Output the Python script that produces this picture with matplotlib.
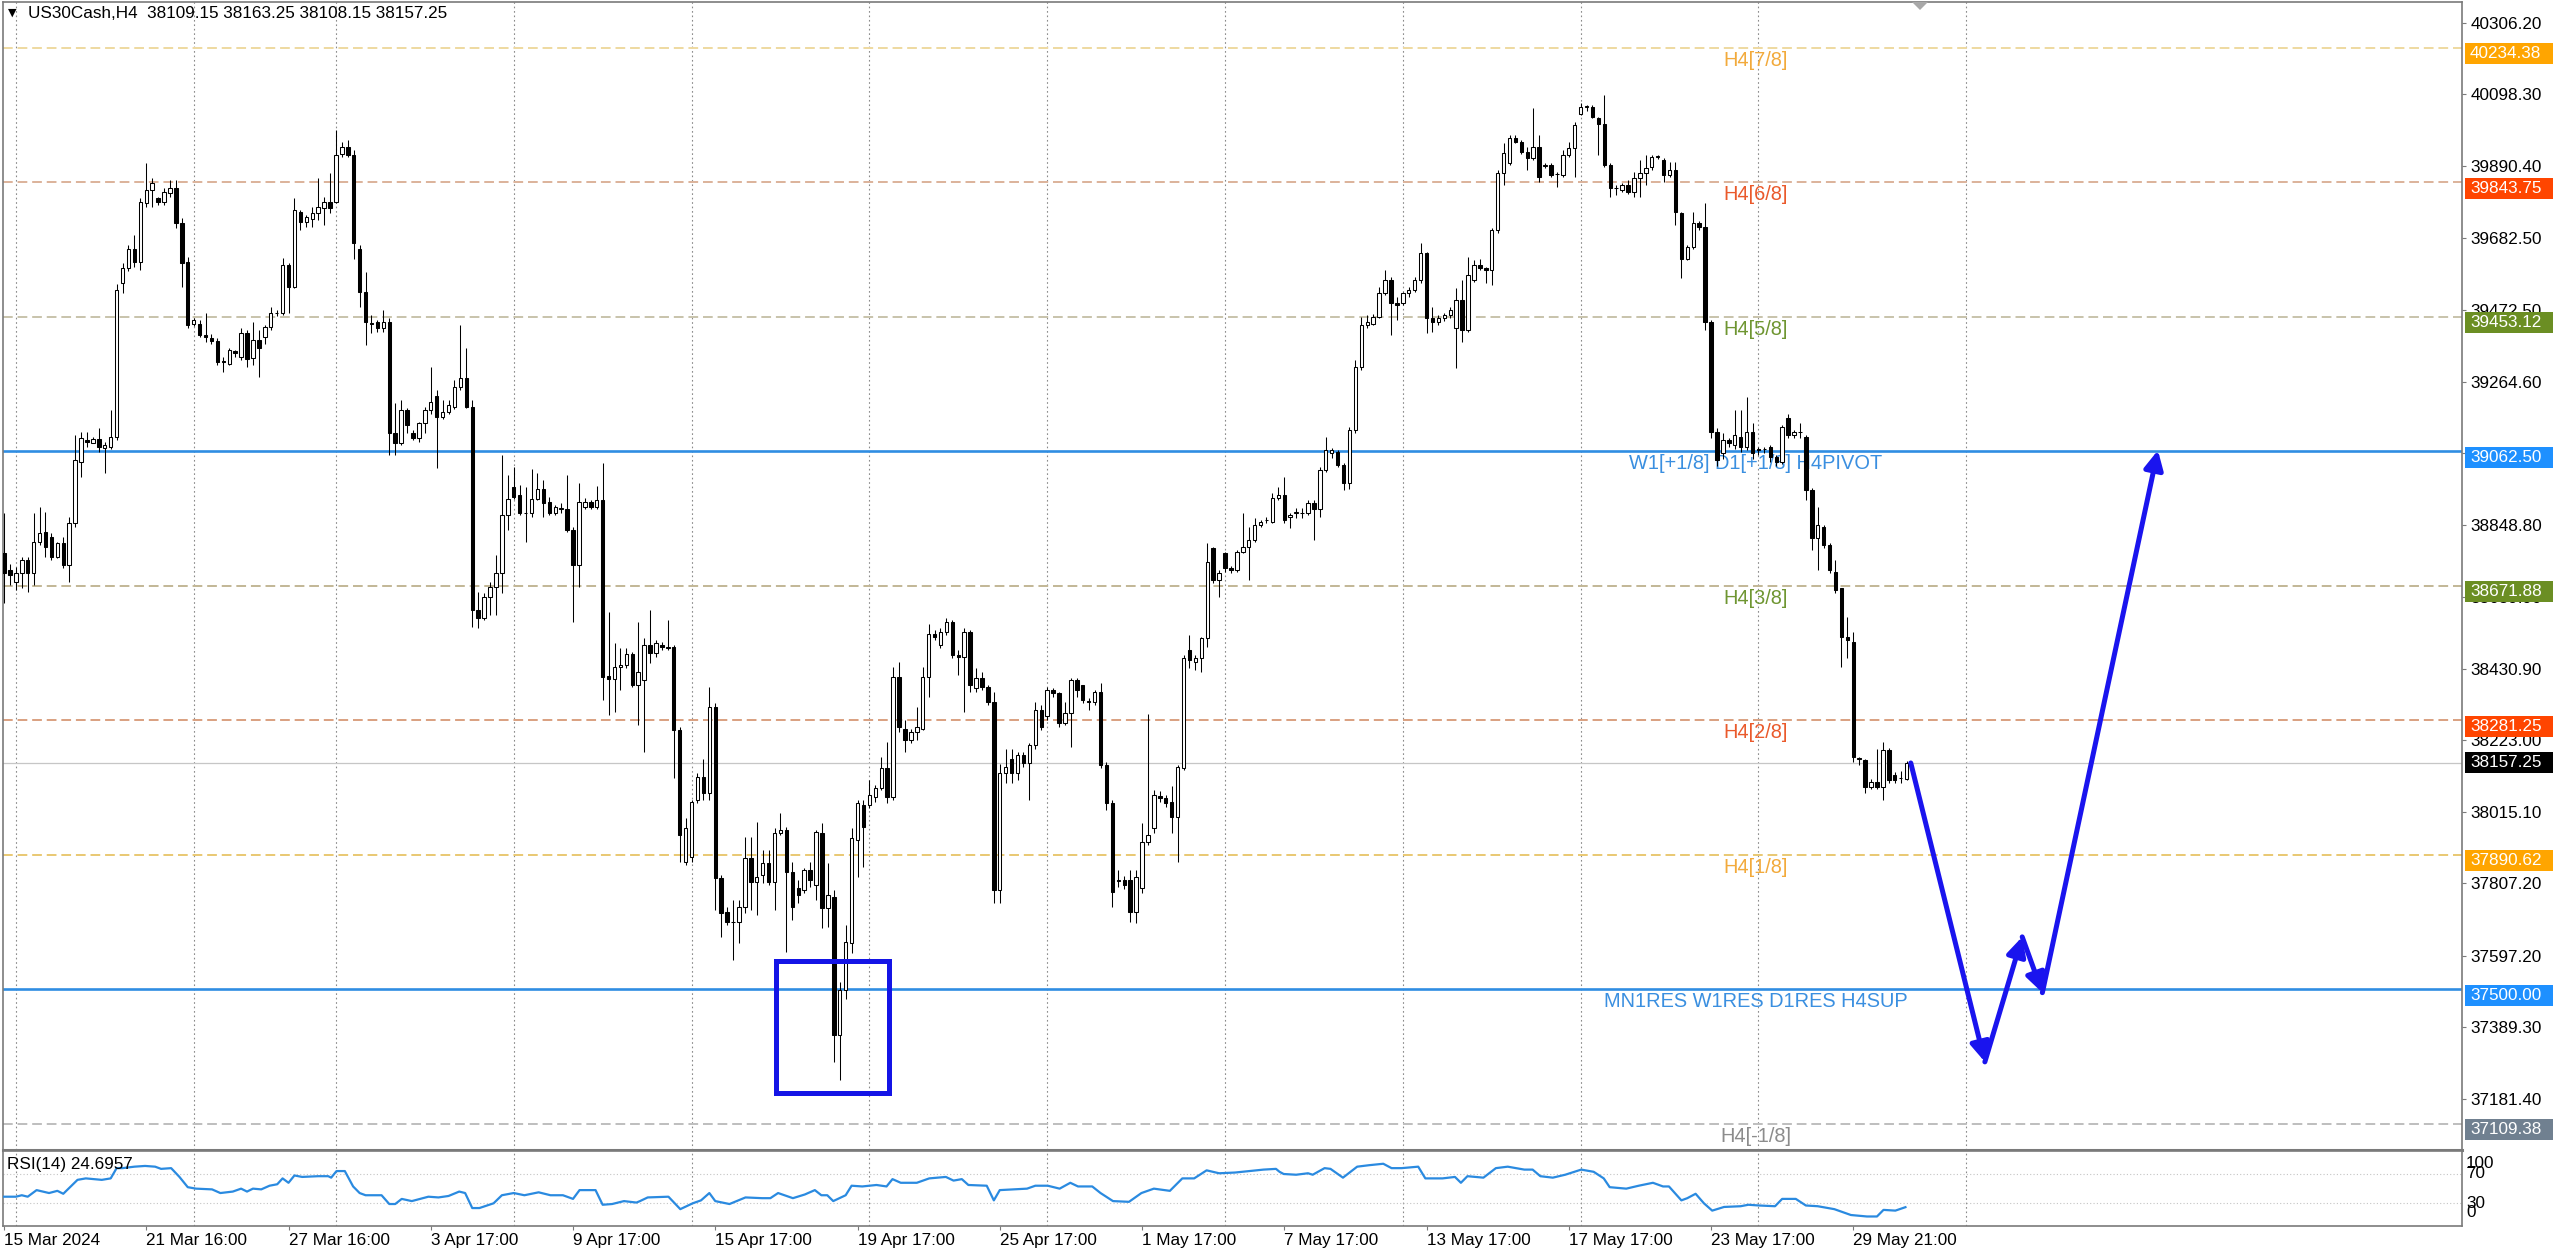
import matplotlib
matplotlib.use("Agg")
import numpy as np
from matplotlib import pyplot as plt
from matplotlib import patches, transforms

plt.rcParams["font.family"] = ["Liberation Sans", "DejaVu Sans"]

# US30Cash H4 candles, bar 0 = 15 Mar 2024
opens = [
    38766, 38717, 38683, 38708, 38746, 38708, 38800, 38829, 38814, 38756,
    38797, 38732, 38853, 39032, 39095, 39087, 39097, 39073, 39075, 39104,
    39550, 39593, 39651, 39613, 39782, 39821, 39797, 39787, 39811, 39826,
    39724, 39613, 39433, 39433, 39400, 39390, 39383, 39325, 39317, 39353,
    39337, 39405, 39332, 39385, 39395, 39424, 39463, 39463, 39603, 39540,
    39758, 39729, 39738, 39753, 39770, 39787, 39787, 39925, 39947, 39923,
    39651, 39526, 39436, 39438, 39419, 39438, 39114, 39085, 39182, 39114,
    39100, 39143, 39182, 39224, 39163, 39177, 39192, 39250, 39274, 39192,
    38601, 38577, 38640, 38669, 38708, 38877, 38959, 38935, 38884, 38882,
    38925, 38954, 38916, 38884, 38896, 38896, 38834, 38732, 38901, 38916,
    38901, 38921, 38410, 38400, 38437, 38441, 38473, 38383, 38398, 38500,
    38475, 38500, 38490, 38495, 38253, 37870, 37884, 38049, 38117, 38069,
    38321, 37822, 37725, 37696, 37696, 37740, 37880, 37812, 37832, 37866,
    37812, 37953, 37962, 37841, 37793, 37788, 37846, 37803, 37953, 37735,
    37769, 37367, 37498, 37633, 37933, 38035, 38035, 38059, 38083, 38141,
    38059, 38408, 38257, 38224, 38248, 38257, 38408, 38533, 38500, 38538,
    38567, 38471, 38466, 38538, 38374, 38403, 38379, 38335, 37788, 38127,
    38170, 38127, 38180, 38156, 38209, 38311, 38292, 38369, 38359, 38272,
    38301, 38398, 38383, 38338, 38335, 38364, 38151, 38040, 37817, 37817,
    37817, 37725, 37793, 37928, 37967, 38061, 38054, 38045, 38001, 38141,
    38485, 38451, 38461, 38519, 38780, 38688, 38766, 38722, 38717, 38771,
    38785, 38805, 38848, 38862, 38858, 38926, 38935, 38872, 38884, 38884,
    38882, 38911, 38896, 39008, 39056, 39061, 39022, 38969, 39124, 39308,
    39429, 39433, 39453, 39521, 39559, 39492, 39492, 39521, 39531, 39560,
    39637, 39448, 39438, 39448, 39458, 39419, 39501, 39414, 39560, 39603,
    39593, 39588, 39705, 39869, 39898, 39971, 39961, 39932, 39913, 39947,
    39891, 39893, 39866, 39864, 39923, 39942, 40043, 40062, 40063, 40029,
    40014, 39893, 39826, 39821, 39835, 39816, 39855, 39869, 39889, 39918,
    39908, 39864, 39879, 39753, 39622, 39656, 39724, 39714, 39438, 39119,
    39056, 39095, 39080, 39104, 39075, 39119, 39068, 39070, 39075, 39046,
    39032, 39158, 39109, 39119, 39104, 38950, 38809, 38843, 38790, 38713,
    38664, 38524, 38509, 38172, 38165, 38088, 38103, 38088, 38195, 38122,
    38112, 38109.15,
]
highs = [
    38882, 38736, 38727, 38756, 38756, 38882, 38901, 38887, 38824, 38800,
    38814, 38872, 39109, 39119, 39119, 39104, 39129, 39090, 39182, 39547,
    39608, 39660, 39690, 39797, 39898, 39855, 39802, 39826, 39850, 39850,
    39739, 39627, 39448, 39443, 39463, 39404, 39390, 39337, 39361, 39356,
    39419, 39414, 39438, 39414, 39429, 39482, 39472, 39624, 39608, 39797,
    39763, 39748, 39772, 39857, 39801, 39869, 39995, 39961, 39966, 39937,
    39661, 39584, 39458, 39443, 39472, 39448, 39201, 39211, 39187, 39124,
    39148, 39192, 39308, 39240, 39211, 39211, 39269, 39429, 39361, 39211,
    38654, 38650, 38683, 38761, 39051, 38993, 39017, 38964, 38959, 39012,
    38998, 38979, 38930, 38906, 38911, 38993, 38843, 38969, 38926, 38921,
    38960, 39027, 38596, 38504, 38490, 38490, 38480, 38567, 38519, 38601,
    38514, 38509, 38572, 38500, 38262, 37996, 38049, 38127, 38170, 38379,
    38330, 37832, 37740, 37759, 37759, 37943, 37943, 37987, 37905, 37905,
    37967, 38011, 37972, 37870, 37817, 37851, 37870, 37962, 37982, 37866,
    37788, 37522, 37686, 37967, 38049, 38049, 38108, 38093, 38175, 38219,
    38437, 38451, 38282, 38257, 38321, 38437, 38562, 38543, 38548, 38577,
    38572, 38485, 38548, 38543, 38432, 38422, 38384, 38364, 38155, 38199,
    38199, 38190, 38190, 38214, 38335, 38325, 38379, 38374, 38364, 38335,
    38403, 38403, 38383, 38345, 38369, 38388, 38160, 38049, 37845, 37830,
    37845, 37845, 37982, 38300, 38078, 38075, 38064, 38090, 38151, 38471,
    38529, 38470, 38524, 38795, 38785, 38718, 38771, 38730, 38776, 38882,
    38843, 38867, 38863, 38872, 38940, 38959, 38988, 38882, 38897, 38897,
    38921, 38921, 39017, 39104, 39071, 39066, 39027, 39134, 39327, 39453,
    39457, 39462, 39540, 39589, 39569, 39511, 39526, 39540, 39569, 39666,
    39642, 39482, 39458, 39465, 39482, 39535, 39560, 39627, 39618, 39622,
    39598, 39710, 39879, 39956, 39981, 39981, 39966, 39947, 40058, 39981,
    39898, 39898, 39874, 39937, 39961, 40019, 40073, 40068, 40068, 40034,
    40097, 39898, 39835, 39840, 39850, 39874, 39908, 39923, 39923, 39923,
    39913, 39903, 39903, 39758, 39661, 39758, 39730, 39782, 39443, 39130,
    39114, 39100, 39182, 39182, 39221, 39143, 39075, 39075, 39080, 39050,
    39138, 39170, 39124, 39143, 39109, 38955, 38901, 38848, 38795, 38746,
    38664, 38582, 38538, 38175, 38170, 38110, 38199, 38219, 38200, 38130,
    38135, 38163.25,
]
lows = [
    38621, 38675, 38659, 38664, 38654, 38674, 38790, 38756, 38746, 38751,
    38722, 38684, 38843, 38988, 39075, 39085, 39061, 38998, 39070, 39095,
    39521, 39585, 39598, 39589, 39772, 39772, 39778, 39778, 39802, 39710,
    39540, 39419, 39425, 39395, 39380, 39375, 39313, 39293, 39313, 39337,
    39327, 39308, 39313, 39279, 39375, 39414, 39455, 39458, 39463, 39535,
    39705, 39714, 39714, 39734, 39719, 39753, 39782, 39918, 39918, 39622,
    39482, 39371, 39405, 39409, 39409, 39051, 39051, 39080, 39114, 39095,
    39090, 39114, 39170, 39013, 39155, 39170, 39185, 39240, 39187, 38553,
    38548, 38572, 38587, 38587, 38650, 38834, 38925, 38877, 38800, 38872,
    38920, 38872, 38877, 38877, 38882, 38829, 38567, 38669, 38896, 38896,
    38896, 38340, 38296, 38306, 38369, 38432, 38379, 38268, 38190, 38446,
    38466, 38485, 38485, 38112, 37870, 37860, 37870, 38040, 38049, 38049,
    37730, 37653, 37686, 37585, 37633, 37720, 37730, 37715, 37808, 37803,
    37730, 37948, 37609, 37701, 37749, 37779, 37798, 37759, 37677, 37682,
    37290, 37236, 37473, 37604, 37827, 37856, 38025, 38045, 38078, 38040,
    38049, 38248, 38190, 38214, 38224, 38252, 38350, 38514, 38490, 38528,
    38461, 38412, 38306, 38364, 38364, 38369, 38325, 37749, 37749, 38100,
    38100, 38108, 38146, 38049, 38199, 38252, 38282, 38350, 38262, 38267,
    38204, 38350, 38330, 38311, 38325, 38141, 38020, 37740, 37796, 37790,
    37696, 37691, 37780, 37920, 37953, 38045, 38030, 37953, 37870, 38136,
    38432, 38427, 38422, 38495, 38680, 38640, 38712, 38710, 38713, 38766,
    38688, 38800, 38843, 38853, 38853, 38920, 38853, 38838, 38867, 38867,
    38877, 38805, 38872, 39003, 39042, 39017, 38950, 38954, 39114, 39298,
    39420, 39428, 39448, 39515, 39400, 39443, 39487, 39511, 39526, 39550,
    39405, 39409, 39430, 39440, 39450, 39303, 39380, 39409, 39555, 39590,
    39550, 39545, 39695, 39835, 39893, 39956, 39925, 39879, 39908, 39845,
    39884, 39860, 39830, 39859, 39918, 39859, 40038, 40050, 40029, 39923,
    39888, 39802, 39807, 39815, 39810, 39801, 39801, 39835, 39880, 39910,
    39845, 39860, 39719, 39564, 39617, 39651, 39705, 39414, 39100, 39020,
    39040, 39075, 39070, 39060, 39065, 39040, 39051, 39056, 39030, 39020,
    39025, 39100, 39100, 39100, 38921, 38775, 38717, 38780, 38710, 38650,
    38437, 38461, 38160, 38150, 38070, 38080, 38080, 38049, 38100, 38100,
    38100, 38108.15,
]
closes = [
    38708, 38703, 38708, 38746, 38708, 38800, 38826, 38785, 38756, 38795,
    38732, 38853, 39037, 39100, 39088, 39097, 39075, 39080, 39104, 39531,
    39593, 39651, 39613, 39787, 39821, 39840, 39787, 39816, 39826, 39724,
    39608, 39429, 39443, 39400, 39393, 39383, 39322, 39321, 39356, 39348,
    39405, 39329, 39385, 39361, 39424, 39463, 39465, 39603, 39540, 39763,
    39729, 39743, 39753, 39772, 39787, 39768, 39923, 39947, 39923, 39666,
    39526, 39438, 39432, 39419, 39438, 39114, 39085, 39182, 39138, 39100,
    39143, 39182, 39206, 39163, 39177, 39197, 39250, 39274, 39192, 38601,
    38577, 38640, 38669, 38708, 38877, 38925, 38930, 38882, 38882, 38925,
    38954, 38911, 38882, 38899, 38898, 38834, 38732, 38916, 38916, 38901,
    38921, 38408, 38400, 38437, 38441, 38473, 38383, 38422, 38500, 38475,
    38504, 38493, 38495, 38253, 37948, 37967, 38044, 38117, 38069, 38321,
    37822, 37720, 37696, 37694, 37740, 37880, 37812, 37827, 37866, 37812,
    37953, 37962, 37841, 37740, 37774, 37846, 37817, 37957, 37735, 37774,
    37367, 37498, 37638, 37938, 38040, 37972, 38064, 38083, 38141, 38059,
    38408, 38262, 38224, 38248, 38262, 38408, 38533, 38524, 38538, 38567,
    38471, 38466, 38538, 38383, 38403, 38379, 38335, 37788, 38127, 38146,
    38127, 38180, 38156, 38209, 38311, 38262, 38369, 38359, 38272, 38301,
    38398, 38369, 38340, 38335, 38364, 38151, 38040, 37783, 37815, 37803,
    37725, 37827, 37928, 37948, 38064, 38054, 38040, 38001, 38146, 38461,
    38456, 38461, 38519, 38742, 38688, 38708, 38722, 38717, 38771, 38785,
    38805, 38848, 38858, 38864, 38926, 38935, 38862, 38877, 38886, 38882,
    38911, 38896, 39008, 39066, 39066, 39022, 38969, 39124, 39308, 39429,
    39438, 39453, 39521, 39559, 39492, 39487, 39521, 39531, 39560, 39637,
    39448, 39438, 39448, 39458, 39472, 39501, 39414, 39574, 39603, 39593,
    39588, 39705, 39869, 39927, 39971, 39961, 39932, 39913, 39947, 39860,
    39893, 39864, 39866, 39923, 39942, 40010, 40063, 40064, 40034, 40014,
    39893, 39826, 39827, 39835, 39816, 39855, 39869, 39884, 39918, 39919,
    39864, 39879, 39758, 39622, 39656, 39724, 39714, 39438, 39119, 39037,
    39095, 39087, 39109, 39075, 39119, 39056, 39066, 39068, 39046, 39032,
    39134, 39109, 39119, 39118, 38950, 38809, 38848, 38790, 38717, 38659,
    38524, 38514, 38175, 38170, 38088, 38103, 38088, 38195, 38108, 38108,
    38112, 38157.25,
]

# RSI(14) line, read at these bar positions
rsi_bars = [
    0, 2, 3, 4, 5.5, 7.6, 9, 10, 12.4, 13.8,
    16.5, 18, 19, 20, 22, 23.8, 25.5, 26.5, 28.2, 29.6,
    31, 32.4, 35.1, 36.5, 38.6, 40, 41, 42, 43.4, 44.8,
    46.1, 47, 48, 49, 50.3, 53, 54.7, 55.2, 56.1, 57.5,
    58.9, 60, 61, 63.7, 65, 66, 67.1, 68.8, 71.6, 73.3,
    75, 76.8, 77.8, 79, 80.2, 82.6, 84, 86, 87.8, 90.2,
    92.2, 94.3, 96, 97.1, 99.8, 101, 102.6, 104.6, 106.7, 107.3,
    108.6, 112.1, 114.1, 116.2, 117.6, 119, 120, 122.4, 125.1, 127.9,
    129.3, 130.6, 133.1, 135.1, 136.8, 137.9, 138.9, 139.9, 142, 143,
    144.8, 147.2, 148.9, 149.9, 151.3, 154, 156.1, 158.9, 160.2, 161.6,
    162.7, 165.8, 167, 168, 172.6, 174, 176.1, 178.1, 179.9, 181.2,
    183.6, 185, 187.1, 189.8, 191.9, 194, 196.7, 198.8, 200.8, 202.9,
    205, 207.7, 212.5, 214.6, 215.2, 215.9, 218, 220, 220.8, 222.8,
    223.8, 225.9, 228.3, 230.3, 232.7, 234.1, 235.8, 238.6, 239.8, 242.7,
    244.8, 245.8, 246.9, 249.6, 251.7, 253.7, 256.5, 257.9, 259.2, 261.3,
    263.4, 266.1, 268.2, 269.9, 270.9, 273.7, 275.8, 278.2, 279.9, 280.9,
    283, 284, 285.4, 286.8, 288.2, 290.2, 293, 294.3, 296.1, 298.8,
    300, 302.3, 304, 306, 308.8, 311.6, 314.3, 316, 317.1, 319.1,
    320.8,
]
rsi_values = [
    39, 39, 41, 39, 48, 44, 47, 43, 62, 64,
    62, 64, 78, 78, 80, 81, 80, 77, 78, 66,
    52, 50, 49, 44, 46, 50, 46, 50, 49, 54,
    56, 64, 58, 68, 66, 67, 67, 65, 74, 74,
    53, 44, 41, 41, 29, 29, 36, 33, 39, 38,
    40, 46, 44, 23.5, 23.5, 30, 41, 44, 41, 45,
    41, 41, 36, 48, 48, 28, 29, 33, 31, 33,
    38, 39, 22, 30, 34, 44, 33, 29, 38, 37,
    37, 44, 37, 42, 48, 41, 41, 33, 41, 54,
    53, 55, 53, 63, 58, 58, 64, 66, 61, 63,
    55, 54, 34, 48, 50, 54, 54, 50, 58, 53,
    53, 44, 33, 32, 44, 50, 47, 64, 64, 75,
    71, 72, 76, 77, 73, 70, 69, 71, 69, 78,
    77, 65, 80, 82, 84, 78, 78, 80, 64, 64,
    66, 58, 67, 65, 78, 80, 76, 76, 67, 65,
    69, 76, 73, 64, 52, 50, 54, 58, 53, 53,
    34, 37, 43, 30, 20, 25, 26, 28, 27, 26,
    36, 36, 27, 26, 22, 14, 12, 12, 21, 20,
    24.6957,
]

# Murrey-style H4 levels
level_prices = [40234.38, 39843.75, 39453.12, 38671.88, 38281.25, 37890.62, 37109.38]
level_names = ["H4[7/8]", "H4[6/8]", "H4[5/8]", "H4[3/8]", "H4[2/8]", "H4[1/8]", "H4[-1/8]"]
level_tag_colors = ["#ffa500", "#ff4500", "#6b8e23", "#6b8e23", "#ff4500", "#ffa500", "#708090"]
level_line_colors = ["#eed9a0", "#dcb29a", "#c8c3ab", "#c2b796", "#d9a080", "#e9c872", "#bebebe"]
level_text_colors = ["#f2aa3c", "#ea5a2c", "#6f9632", "#6f9632", "#ea5a2c", "#f2aa3c", "#8c8c8c"]

pivot_prices = [39062.50, 37500.00]
pivot_names = ["W1[+1/8] D1[+1/8] H4PIVOT", "MN1RES W1RES D1RES H4SUP"]
last_price = 38157.25

price_ticks = [40306.20, 40098.30, 39890.40, 39682.50, 39472.50, 39264.60, 39056.70,
               38848.80, 38639.90, 38430.90, 38223.00, 38015.10, 37807.20, 37597.20,
               37389.30, 37181.40]

date_bars = [0, 24, 48, 72, 96, 120, 144, 168, 192, 216, 240, 264, 288, 312]
date_labels = ["15 Mar 2024", "21 Mar 16:00", "27 Mar 16:00", "3 Apr 17:00", "9 Apr 17:00",
               "15 Apr 17:00", "19 Apr 17:00", "25 Apr 17:00", "1 May 17:00", "7 May 17:00",
               "13 May 17:00", "17 May 17:00", "23 May 17:00", "29 May 21:00"]
grid_bars = [2, 32, 56, 86, 116, 146, 176, 206, 236, 266, 296, 331]

# hand-drawn objects
box_bars = [130.25, 149.3]
box_prices = [37199, 37582]
path_bars = [321.7, 334.2, 340.5, 343.9, 363.4]
path_prices = [38157, 37289, 37652, 37490, 39065]

W, H = 2560, 1253
fig = plt.figure(figsize=(W / 100, H / 100), dpi=100, facecolor="white")
ax = fig.add_axes([3 / W, 1 - 1150 / H, 2459 / W, 1148 / H])
rsi_ax = fig.add_axes([3 / W, 1 - 1226 / H, 2459 / W, 75 / H], sharex=ax)

ax.set_xlim(-0.17, 414.7)
ax.set_ylim(37033.1, 40366.9)
rsi_ax.set_ylim(-1, 101.4)

frame = "#7a7a7a"
for a in (ax, rsi_ax):
    for s in a.spines.values():
        s.set_color(frame)
        s.set_linewidth(1.2)
    for gb in grid_bars:
        a.axvline(gb, color="#8a8a8a", lw=0.8, linestyle=(0, (1.5, 2.5)), zorder=1)
ax.spines["bottom"].set_linewidth(2.2)

# levels
for p, lc in zip(level_prices, level_line_colors):
    ax.axhline(p, color=lc, lw=1.4, dashes=(5, 2.5), zorder=2)
for p in pivot_prices:
    ax.axhline(p, color="#2f8de2", lw=1.9, zorder=2)
ax.axhline(last_price, color="#c6c6c6", lw=0.9, zorder=1.8)

for p, name, tc in zip(level_prices, level_names, level_text_colors):
    ax.annotate(name, xy=(295.5, p), xytext=(0, -12.5), textcoords="offset pixels",
                ha="center", va="center", color=tc, fontsize=14.4, zorder=2.5)
for p, name in zip(pivot_prices, pivot_names):
    ax.annotate(name, xy=(295.5, p), xytext=(0, -12), textcoords="offset pixels",
                ha="center", va="center", color="#3a8fe0", fontsize=14.4, zorder=2.5)

# candles
o = np.array(opens)
h = np.array(highs)
l = np.array(lows)
c = np.array(closes)
x = np.arange(len(c))
ax.vlines(x, l, h, color="black", lw=0.75, zorder=3)
up = c >= o
body_lo = np.minimum(o, c)
body_h = np.abs(c - o)
ax.bar(x[up], body_h[up], bottom=body_lo[up], width=0.58, color="white",
       edgecolor="black", linewidth=0.75, zorder=4)
ax.bar(x[~up], body_h[~up], bottom=body_lo[~up], width=0.58, color="black",
       edgecolor="black", linewidth=0.75, zorder=4)

# blue box and forecast arrows
ax.add_patch(patches.Rectangle((box_bars[0], box_prices[0]), box_bars[1] - box_bars[0],
                               box_prices[1] - box_prices[0], fill=False,
                               edgecolor="#1414e6", lw=3.6, zorder=6))
for k in range(len(path_bars) - 1):
    ax.add_patch(patches.FancyArrowPatch(
        (path_bars[k], path_prices[k]), (path_bars[k + 1], path_prices[k + 1]),
        arrowstyle="-|>,head_length=0.75,head_width=0.38", mutation_scale=15,
        lw=3.6, color="#1a14ee", shrinkA=0, shrinkB=0, zorder=6))

# price axis
ax.yaxis.tick_right()
ax.set_yticks(price_ticks)
ax.set_yticklabels([f"{t:.2f}" for t in price_ticks])
ax.tick_params(axis="y", direction="out", length=3, pad=3, labelsize=12.3,
               color=frame, labelcolor="black")
ax.tick_params(axis="x", bottom=False, labelbottom=False)

# price tags
def price_tag(price, face, shift):
    y = ax.transData.transform((0, price))[1] - shift
    fig.patches.append(patches.Rectangle((2465, y - 10.5), 88, 21,
                                         transform=transforms.IdentityTransform(),
                                         facecolor=face, edgecolor="none", zorder=5))
    fig.text(2470 / W, y / H, f"{price:.2f}", color="white", fontsize=12.3,
             ha="left", va="center", zorder=6)

for p, col in zip(level_prices, level_tag_colors):
    price_tag(p, col, 6)
for p in pivot_prices:
    price_tag(p, "#1e90ff", 6)
price_tag(last_price, "black", 0)

# RSI panel
rsi_ax.plot(rsi_bars, rsi_values, color="#2a8ae0", lw=1.6, zorder=3)
for lvl in (70, 30):
    rsi_ax.axhline(lvl, color="#c4c4c4", lw=0.8, linestyle=(0, (1, 2)), zorder=1)
rsi_ax.set_yticks([])
for val, ypos in zip(["100", "70", "30", "0"], [85, 70, 30, 17]):
    rsi_ax.text(1.0, ypos, val, transform=transforms.offset_copy(
        transforms.blended_transform_factory(rsi_ax.transAxes, rsi_ax.transData),
        fig=fig, x=4, y=0, units="dots"),
        ha="left", va="center", fontsize=12.3, clip_on=False)
rsi_ax.set_xticks(date_bars)
rsi_ax.set_xticklabels(date_labels, ha="left")
rsi_ax.tick_params(axis="x", direction="out", length=3, pad=2, labelsize=12.3,
                   color=frame, labelcolor="black")

fig.text(7 / W, 1 - 1165 / H, "RSI(14) 24.6957", fontsize=12.3, ha="left", va="center")
fig.text(28 / W, 1 - 14 / H, "US30Cash,H4  38109.15 38163.25 38108.15 38157.25",
         fontsize=12.3, ha="left", va="center")
fig.text(12 / W, 1 - 13 / H, "\u25bc", family="DejaVu Sans", fontsize=8,
         ha="center", va="center")
fig.patches.append(patches.Polygon([(1912, H - 2), (1928, H - 2), (1920, H - 10)],
                                   closed=True, transform=transforms.IdentityTransform(),
                                   facecolor="#a8a8a8", edgecolor="none", zorder=5))

fig.savefig("out.png", dpi=100, facecolor="white")
